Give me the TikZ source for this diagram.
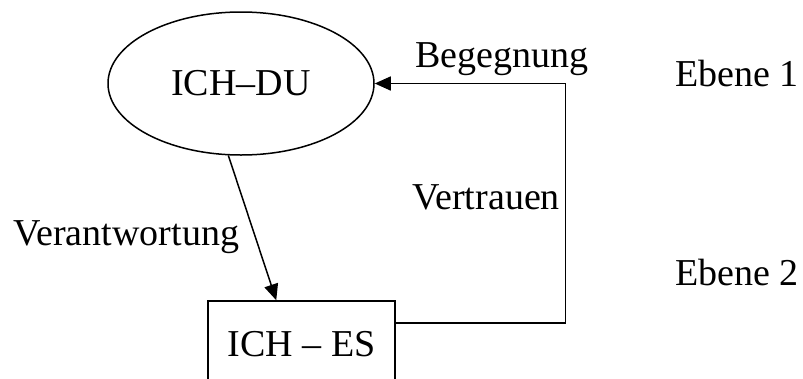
\documentclass[tikz,border=0pt]{standalone}
\usepackage{fontspec}
\setmainfont{Liberation Serif}
\usetikzlibrary{shapes.geometric,arrows.meta}
\begin{document}
\begin{tikzpicture}[x=1pt,y=-1pt,
  every node/.style={font=\fontsize{38}{42}\selectfont},
  lbl/.style={anchor=base west,inner sep=0pt},
  conn/.style={line width=1.5pt,-{Triangle[length=16pt,width=14pt]}},
  shp/.style={draw,line width=1.5pt,inner sep=0pt}]
\useasboundingbox (0,0) rectangle (803,378);
\clip (0,0) rectangle (803,378);
\node[shp,ellipse,minimum width=266pt,minimum height=143pt] (du) at (241,83.5) {ICH–DU};
\node[shp,rectangle,minimum width=187pt,minimum height=87pt] (es) at (301.5,344.5) {ICH – ES};
\coordinate (corner) at (565.5,323);
\draw[conn] (du.-100) -- ([xshift=69pt]es.north west);
\draw[conn] (es.east |- corner) -- (corner) |- (du.east);
\node[lbl] (beg) at (415,67) {Begegnung};
\node[lbl] (ver) at (412,209) {Vertrauen};
\node[lbl] (vant) at (13,245) {Verantwortung};
\node[lbl] (e1) at (675,86) {Ebene 1};
\node[lbl] (e2) at (675,285) {Ebene 2};
\end{tikzpicture}
\end{document}
